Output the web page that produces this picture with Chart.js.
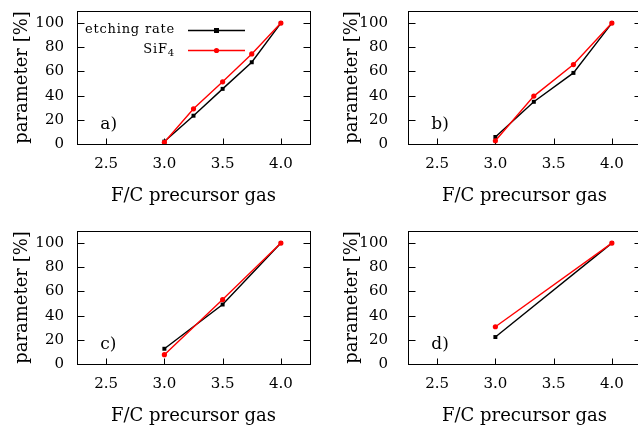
<!DOCTYPE html>
<html>
<head>
<meta charset="utf-8">
<script src="https://cdn.jsdelivr.net/npm/chart.js@4.4.1/dist/chart.umd.min.js"></script>
<style>
    html, body { margin: 0; padding: 0; background: #fff; overflow: hidden; }
    #wrap { position: relative; width: 638px; height: 429px; overflow: hidden; }
    #wrap canvas { position: absolute; }
</style>
</head>
<body>
<div id="wrap">
    <canvas id="chartA"></canvas>
    <canvas id="chartB"></canvas>
    <canvas id="chartC"></canvas>
    <canvas id="chartD"></canvas>
</div>
<script>
// axis ticks
const xTicks = [2.5, 3.0, 3.5, 4.0];
const yTicks = [0, 20, 40, 60, 80, 100];
const seriesNames = ['etching rate', 'SiF4'];

// a) five precursor gases
const xA = [3.0, 3.25, 3.5, 3.75, 4.0];
const etchA = [2, 23.4, 45.6, 67.6, 100];
const sifA = [1.4, 29.1, 51.4, 74.5, 100];

// b) four precursor gases
const xB = [3.0, 3.33, 3.67, 4.0];
const etchB = [5.8, 34.9, 58.8, 100];
const sifB = [2.7, 39.6, 65.7, 100];

// c) three precursor gases
const xC = [3.0, 3.5, 4.0];
const etchC = [12.6, 49.2, 100];
const sifC = [7.7, 53.3, 100];

// d) two precursor gases
const xD = [3.0, 4.0];
const etchD = [22.3, 100];
const sifD = [30.8, 100];

const FONT = '"DejaVu Serif", serif';
const BLACK = '#000000';
const RED = '#ff0000';

const panels = [
    { id: 'chartA', label: 'a)', x: xA, etch: etchA, sif: sifA, left: 7, top: 1, tickPad: 13, titlePad: 4.7, legend: true },
    { id: 'chartB', label: 'b)', x: xB, etch: etchB, sif: sifB, left: 338, top: 1, tickPad: 20, titlePad: 3.2, legend: false },
    { id: 'chartC', label: 'c)', x: xC, etch: etchC, sif: sifC, left: 7, top: 221, tickPad: 13, titlePad: 4.7, legend: false },
    { id: 'chartD', label: 'd)', x: xD, etch: etchD, sif: sifD, left: 338, top: 221, tickPad: 20, titlePad: 3.2, legend: false }
];

const CANVAS_W = 311;
const CANVAS_H = 206;

// frame, inward ticks, panel label and gnuplot-like key
const framePlugin = {
    id: 'frame',
    beforeDatasetsDraw(chart, args, opts) {
        const { ctx, chartArea: a, scales: { x, y } } = chart;
        ctx.save();
        ctx.strokeStyle = BLACK;
        ctx.lineWidth = 1;
        const l = Math.round(a.left) + 0.5, r = Math.round(a.right) + 0.5;
        const t = Math.round(a.top) + 0.5, b = Math.round(a.bottom) + 0.5;
        ctx.strokeRect(l, t, r - l, b - t);
        ctx.beginPath();
        y.ticks.forEach(tk => {
            const py = Math.round(y.getPixelForValue(tk.value)) + 0.5;
            ctx.moveTo(l, py); ctx.lineTo(l + 7, py);
            ctx.moveTo(r, py); ctx.lineTo(r - 7, py);
        });
        x.ticks.forEach(tk => {
            const px = Math.round(x.getPixelForValue(tk.value)) + 0.5;
            ctx.moveTo(px, b); ctx.lineTo(px, b - 6);
        });
        ctx.stroke();

        ctx.fillStyle = BLACK;
        ctx.font = '17px ' + FONT;
        ctx.textAlign = 'left';
        ctx.textBaseline = 'middle';
        ctx.fillText(opts.label, x.getPixelForValue(2.45), y.getPixelForValue(16));
        ctx.restore();
    },
    afterDraw(chart, args, opts) {
        if (!opts.legend) return;
        const { ctx, chartArea: a } = chart;
        const colors = [BLACK, RED];
        ctx.save();
        ctx.letterSpacing = '0.8px';
        ctx.textBaseline = 'middle';
        ctx.textAlign = 'left';
        seriesNames.forEach((name, i) => {
            const yy = a.top + 19 + i * 20;
            const right = a.left + 98;
            ctx.fillStyle = BLACK;
            if (name === 'SiF4') {
                ctx.font = '13px ' + FONT;
                const w1 = ctx.measureText('SiF').width;
                ctx.font = '10px ' + FONT;
                const w2 = ctx.measureText('4').width;
                ctx.font = '13px ' + FONT;
                ctx.fillText('SiF', right - w1 - w2, yy);
                ctx.font = '10px ' + FONT;
                ctx.fillText('4', right - w2, yy + 3);
            } else {
                ctx.font = '13px ' + FONT;
                const w = ctx.measureText(name).width;
                ctx.fillText(name, right - w, yy);
            }
            const ly = Math.round(yy) + 0.5;
            ctx.strokeStyle = colors[i];
            ctx.lineWidth = 1.4;
            ctx.beginPath();
            ctx.moveTo(a.left + 111, ly);
            ctx.lineTo(a.left + 168, ly);
            ctx.stroke();
            ctx.fillStyle = colors[i];
            const mx = a.left + 139.5;
            if (i === 0) {
                ctx.fillRect(mx - 2.5, ly - 2.5, 5, 5);
            } else {
                ctx.beginPath();
                ctx.arc(mx, ly, 2.6, 0, Math.PI * 2);
                ctx.fill();
            }
        });
        ctx.restore();
    }
};

function makeChart(p) {
    const canvas = document.getElementById(p.id);
    canvas.width = CANVAS_W;
    canvas.height = CANVAS_H;
    canvas.style.left = p.left + 'px';
    canvas.style.top = p.top + 'px';

    return new Chart(canvas, {
        type: 'line',
        data: {
            datasets: [
                {
                    label: seriesNames[0],
                    data: p.x.map((v, i) => ({ x: v, y: p.etch[i] })),
                    borderColor: BLACK,
                    backgroundColor: BLACK,
                    borderWidth: 1.4,
                    pointStyle: 'rect',
                    pointRadius: 2.8,
                    pointBorderWidth: 0,
                    tension: 0,
                    order: 1
                },
                {
                    label: seriesNames[1],
                    data: p.x.map((v, i) => ({ x: v, y: p.sif[i] })),
                    borderColor: RED,
                    backgroundColor: RED,
                    borderWidth: 1.4,
                    pointStyle: 'circle',
                    pointRadius: 2.6,
                    pointBorderWidth: 0,
                    tension: 0,
                    order: 0
                }
            ]
        },
        options: {
            responsive: false,
            animation: false,
            devicePixelRatio: 1,
            layout: { padding: { left: 0, top: 10, right: 8, bottom: 0 } },
            plugins: {
                legend: { display: false },
                tooltip: { enabled: false },
                frame: { label: p.label, legend: p.legend }
            },
            scales: {
                x: {
                    type: 'linear',
                    min: 2.25,
                    max: 4.25,
                    afterBuildTicks: s => { s.ticks = xTicks.map(v => ({ value: v })); },
                    afterFit: s => {
                        s.height = 63;
                        s.paddingLeft = 0; s.paddingRight = 0;
                    },
                    grid: { display: false, drawTicks: false },
                    border: { display: false },
                    ticks: {
                        color: BLACK,
                        font: { family: FONT, size: 15 },
                        padding: 11,
                        maxRotation: 0,
                        callback: v => v.toFixed(1)
                    },
                    title: {
                        display: true,
                        text: 'F/C precursor gas',
                        color: BLACK,
                        font: { family: FONT, size: 18 },
                        padding: { top: 0, bottom: 0 }
                    }
                },
                y: {
                    min: 0,
                    max: 110,
                    afterBuildTicks: s => { s.ticks = yTicks.map(v => ({ value: v })); },
                    afterFit: s => {
                        s.width = 70;
                        s.paddingTop = 0; s.paddingBottom = 0;
                    },
                    grid: { display: false, drawTicks: false },
                    border: { display: false },
                    ticks: {
                        color: BLACK,
                        font: { family: FONT, size: 15 },
                        padding: p.tickPad
                    },
                    title: {
                        display: true,
                        text: 'parameter [%]',
                        color: BLACK,
                        font: { family: FONT, size: 18 },
                        padding: { top: p.titlePad, bottom: 0 }
                    }
                }
            }
        },
        plugins: [framePlugin]
    });
}

panels.forEach(makeChart);
</script>
</body>
</html>
